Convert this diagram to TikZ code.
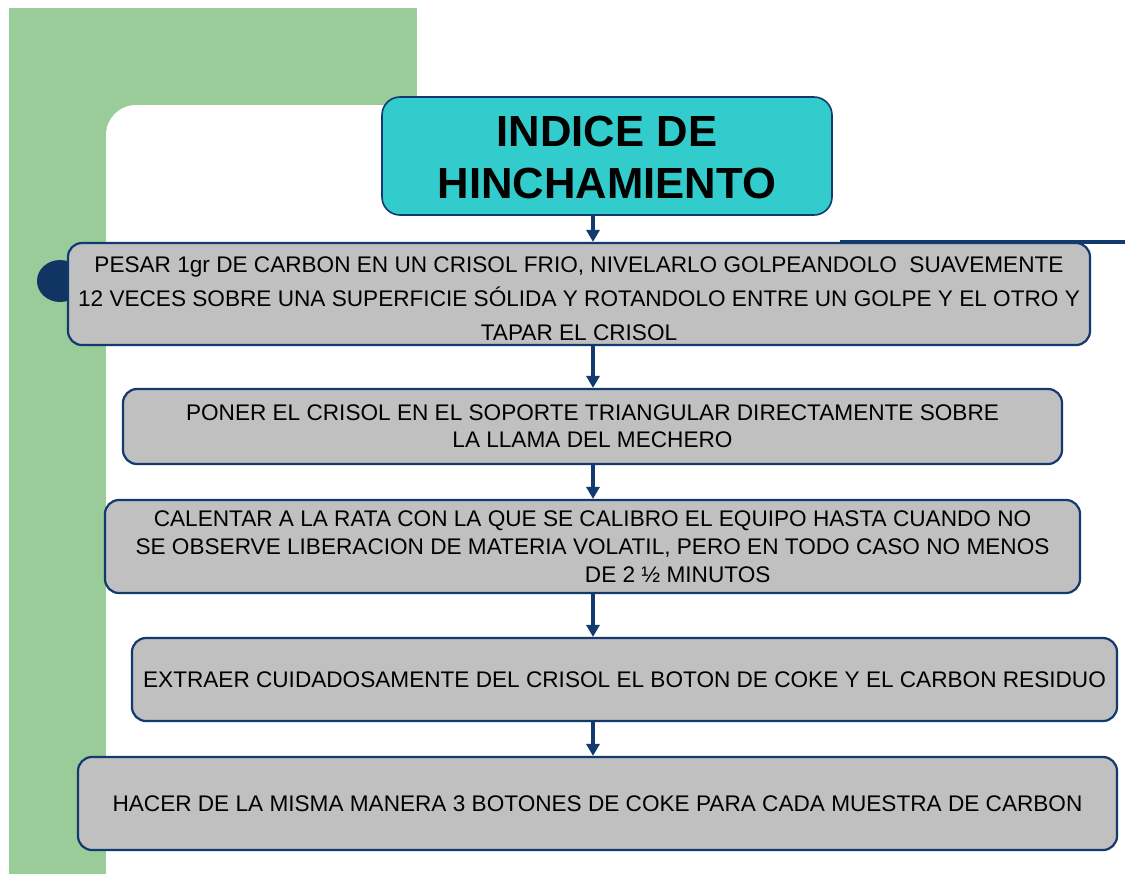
\documentclass[tikz,border=0pt]{standalone}
\usepackage{fontspec}
\setmainfont{Liberation Sans}
\usetikzlibrary{arrows.meta,positioning}
\definecolor{verde}{RGB}{153,204,153}
\definecolor{turquesa}{RGB}{51,204,204}
\definecolor{gris}{RGB}{192,192,192}
\definecolor{azul}{RGB}{18,58,110}

\begin{document}
\begin{tikzpicture}[x=0.5pt,y=-0.5pt,
    paso/.style={rectangle,draw=azul,line width=1.1pt,fill=gris,rounded corners=7pt,align=center,inner sep=0pt,font=\fontsize{11.3}{14}\selectfont},
    titulo/.style={rectangle,draw=azul,line width=0.8pt,fill=turquesa,rounded corners=9pt,align=center,inner sep=0pt,font=\bfseries\fontsize{21.8}{26}\selectfont},
    arrow/.style={->,>={Triangle[length=6pt,width=6.5pt]},line width=1.6pt,draw=azul}]
    \useasboundingbox (0,0) rectangle (1125,874);
    % fondo de la diapositiva
    \fill[verde] (9,8) rectangle (417,874);
    \fill[white] (106,874) [rounded corners=15pt] -- (106,105) -- (1125,105) [sharp corners] -- (1125,874) -- cycle;
    \fill[azul!90!black] (60,281) ellipse [x radius=23, y radius=21];
    \node[titulo,minimum width=225pt,minimum height=59pt] (titulo) at (607,156) {\rule{0pt}{17pt}INDICE DE\\HINCHAMIENTO};
    \node[paso,minimum width=511pt,minimum height=51pt,font=\fontsize{11.3}{17}\selectfont] (pesar) at (579,294) {\rule{0pt}{13pt}PESAR 1gr DE CARBON EN UN CRISOL FRIO, NIVELARLO GOLPEANDOLO\ \ SUAVEMENTE\\12 VECES SOBRE UNA SUPERFICIE SÓLIDA Y ROTANDOLO ENTRE UN GOLPE Y EL OTRO Y\\TAPAR EL CRISOL};
    \draw[azul,line width=2pt] (840,242) -- (1125,242);
    \node[paso,minimum width=469.5pt,minimum height=37.5pt,font=\fontsize{11.3}{13.5}\selectfont] (poner) at (592.5,426.5) {PONER EL CRISOL EN EL SOPORTE TRIANGULAR DIRECTAMENTE SOBRE\\LA LLAMA DEL MECHERO};
    \node[paso,minimum width=487.5pt,minimum height=46.5pt] (calentar) at (592.5,546.5) {CALENTAR A LA RATA CON LA QUE SE CALIBRO EL EQUIPO HASTA CUANDO NO\\SE OBSERVE LIBERACION DE MATERIA VOLATIL, PERO EN TODO CASO NO MENOS\\\phantom{DE 2 ½ MINUTO}DE 2 ½ MINUTOS};
    \node[paso,minimum width=492.5pt,minimum height=41.5pt] (extraer) at (624.5,679.5) {EXTRAER CUIDADOSAMENTE DEL CRISOL EL BOTON DE COKE Y EL CARBON RESIDUO};
    \node[paso,minimum width=519.5pt,minimum height=46.5pt] (hacer) at (597.5,803.5) {HACER DE LA MISMA MANERA 3 BOTONES DE COKE PARA CADA MUESTRA DE CARBON};
    \coordinate (eje) at (593,0);
    \draw[arrow] (titulo.south -| eje) -- (pesar.north -| eje); \draw[arrow] (pesar.south -| eje) -- (poner.north -| eje);
    \draw[arrow] (poner.south -| eje) -- (calentar.north -| eje); \draw[arrow] (calentar.south -| eje) -- (extraer.north -| eje);
    \draw[arrow] (extraer.south -| eje) -- (hacer.north -| eje);
\end{tikzpicture}
\end{document}
